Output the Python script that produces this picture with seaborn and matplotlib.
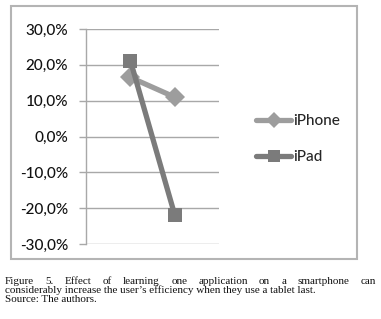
import pandas as pd
import matplotlib.pyplot as plt
import seaborn as sns
from matplotlib.patches import Rectangle
from matplotlib.ticker import FuncFormatter

# values (no x labels shown in the chart)
positions = [0, 1]
iphone = [0.165, 0.11]
ipad = [0.212, -0.218]
series = ['iPhone', 'iPad']
yticks = [-0.3, -0.2, -0.1, 0.0, 0.1, 0.2, 0.3]

df = pd.DataFrame({
    'x': positions * 2,
    'value': iphone + ipad,
    'device': ['iPhone'] * 2 + ['iPad'] * 2,
})

sns.set_style('white')
plt.rcParams['font.family'] = ['Lato', 'DejaVu Sans']

fig = plt.figure(figsize=(3.81, 3.19), dpi=100)
ax = fig.add_axes([86 / 381, 1 - 244 / 319, 133 / 381, 215 / 319])

palette = {'iPhone': '#9d9d9d', 'iPad': '#7b7b7b'}
sns.lineplot(data=df, x='x', y='value', hue='device', style='device',
             hue_order=series, style_order=series, palette=palette,
             markers={'iPhone': 'D', 'iPad': 's'}, dashes=False,
             linewidth=3.8, markersize=10, markeredgewidth=0, ax=ax)

ax.set_xlim(-1, 2)
ax.set_ylim(-0.3, 0.3)
ax.set_yticks(yticks)
ax.yaxis.set_major_formatter(FuncFormatter(lambda v, p: f'{v * 100:.1f}%'.replace('.', ',')))
ax.set_xticks([])
ax.set_xlabel('')
ax.set_ylabel('')
ax.grid(axis='y', color='#a8a8a8', linewidth=1)
ax.set_axisbelow(True)
for s in ['top', 'right', 'bottom']:
    ax.spines[s].set_visible(False)
ax.spines['left'].set_color('#a8a8a8')
ax.spines['left'].set_linewidth(1)
ax.tick_params(axis='y', left=True, length=5, width=1, color='#a8a8a8',
               labelsize=11, labelcolor='#111111', pad=8)
for lab in ax.get_yticklabels():
    lab.set_fontweight('medium')

handles, labels = ax.get_legend_handles_labels()
ax.legend(handles, labels, loc='center left', bbox_to_anchor=(250 / 381, 1 - 139 / 319),
          bbox_transform=fig.transFigure, frameon=False,
          prop={'size': 11, 'weight': 'medium'},
          handlelength=2.3, handletextpad=0.1, labelspacing=1.45, borderaxespad=0,
          markerscale=0.8)

# outer frame around the chart
fig.add_artist(Rectangle((11 / 381, 1 - 259 / 319), 346 / 381, 253 / 319,
                         transform=fig.transFigure, fill=False,
                         edgecolor='#b4b4b4', linewidth=1.5))

# caption, first line justified
cap_font = dict(family='Liberation Serif', size=8.0, color='#111111')
line1 = 'Figure 5. Effect of learning one application on a smartphone can'.split()
fig.canvas.draw()
r = fig.canvas.get_renderer()
left, right = 5 / 381, 376 / 381
texts = [fig.text(0, 1 - 281 / 319, w, va='center', **cap_font) for w in line1]
widths = [t.get_window_extent(r).width / fig.bbox.width for t in texts]
gap = (right - left - sum(widths)) / (len(line1) - 1)
x = left
for t, w in zip(texts, widths):
    t.set_x(x)
    x += w + gap
fig.text(left, 1 - 290 / 319,
         'considerably increase the user\u2019s efficiency when they use a tablet last.',
         va='center', **cap_font)
fig.text(left, 1 - 299 / 319, 'Source: The authors.', va='center', **cap_font)

fig.savefig('out.png', dpi=100)
